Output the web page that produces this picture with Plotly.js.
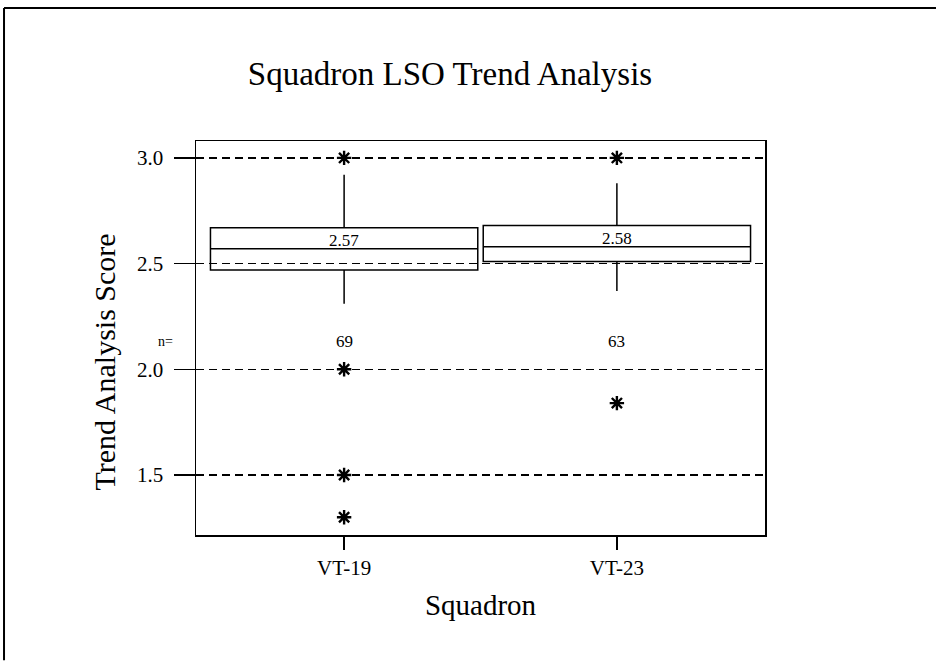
<!DOCTYPE html>
<html>
<head>
<meta charset="utf-8">
<script src="https://cdn.plot.ly/plotly-3.0.1.min.js"></script>
<style>html,body{margin:0;padding:0;background:#fff;overflow:hidden;}#chart{width:937px;height:662px;}</style>
</head>
<body>
<div id="chart"></div>
<script>
// ---- data ----
const categories = ['VT-19', 'VT-23'];
const q1Values = [2.47, 2.51];
const medianValues = [2.57, 2.58];
const q3Values = [2.67, 2.68];
const lowerWhisker = [2.31, 2.37];
const upperWhisker = [2.92, 2.88];
const nCounts = [69, 63];
const outlierCategories = ['VT-19', 'VT-19', 'VT-19', 'VT-19', 'VT-23', 'VT-23'];
const outlierValues = [3.0, 2.0, 1.5, 1.3, 3.0, 1.84];
const yTickValues = [1.5, 2.0, 2.5, 3.0];
const yTickLabels = ['1.5', '2.0', '2.5', '3.0'];

const FONT = 'Liberation Serif, Times New Roman, serif';

const boxTrace = {
  type: 'box',
  x: categories,
  q1: q1Values,
  median: medianValues,
  q3: q3Values,
  lowerfence: lowerWhisker,
  upperfence: upperWhisker,
  width: 0.98,
  whiskerwidth: 0,
  boxpoints: false,
  fillcolor: 'rgba(0,0,0,0)',
  line: {color: '#000', width: 1.5},
  showlegend: false,
  hoverinfo: 'y'
};

const outlierTrace = {
  type: 'scatter',
  mode: 'markers',
  x: outlierCategories,
  y: outlierValues,
  marker: {symbol: 'asterisk-open', size: 12, color: '#000', line: {color: '#000', width: 2.4}},
  showlegend: false,
  cliponaxis: false
};

const annotations = [];
categories.forEach((c, i) => {
  annotations.push({
    x: c, y: medianValues[i], xref: 'x', yref: 'y',
    text: medianValues[i].toFixed(2), showarrow: false,
    xanchor: 'center', yanchor: 'bottom', yshift: -3,
    font: {family: FONT, size: 17, color: '#000'}
  });
  annotations.push({
    x: c, y: 2.13, xref: 'x', yref: 'y',
    text: String(nCounts[i]), showarrow: false,
    xanchor: 'center', yanchor: 'middle',
    font: {family: FONT, size: 17, color: '#000'}
  });
});
annotations.push({
  x: -0.037, y: 2.13, xref: 'paper', yref: 'y',
  text: 'n=', showarrow: false, xanchor: 'right', yanchor: 'middle',
  font: {family: FONT, size: 14, color: '#000'}
});
annotations.push({
  x: -0.16, y: 0.44, xref: 'paper', yref: 'paper',
  text: 'Trend Analysis Score', showarrow: false, textangle: -90,
  xanchor: 'center', yanchor: 'middle',
  font: {family: FONT, size: 30, color: '#000'}
});

const layout = {
  width: 937, height: 662,
  margin: {l: 196, r: 172, t: 141, b: 127},
  paper_bgcolor: '#fff', plot_bgcolor: '#fff',
  font: {family: FONT, color: '#000'},
  title: {
    text: 'Squadron LSO Trend Analysis',
    font: {family: FONT, size: 33, color: '#000'},
    x: 450 / 937, xref: 'container', xanchor: 'center',
    y: 1 - 73 / 662, yref: 'container', yanchor: 'middle'
  },
  xaxis: {
    type: 'category',
    range: [-0.543, 1.543],
    showline: true, linecolor: '#000', linewidth: 1.5, mirror: true,
    ticks: 'outside', ticklen: 13, tickwidth: 1.5, tickcolor: '#000',
    showgrid: false, zeroline: false,
    tickfont: {family: FONT, size: 21, color: '#000'},
    title: {text: 'Squadron', font: {family: FONT, size: 29, color: '#000'}, standoff: 16}
  },
  yaxis: {
    range: [1.216, 3.08],
    tickvals: yTickValues, ticktext: yTickLabels,
    showline: true, linecolor: '#000', linewidth: 1.5, mirror: true,
    ticks: 'outside', ticklen: 21, tickwidth: 1.5, tickcolor: '#000',
    ticklabelstandoff: 6,
    showgrid: true, gridcolor: '#000', gridwidth: 1.5, griddash: '8px,5px',
    zeroline: false,
    tickfont: {family: FONT, size: 21, color: '#000'}
  },
  shapes: [
    {type: 'line', xref: 'paper', yref: 'paper', x0: -0.3374, x1: -0.3374, y0: 1.3376, y1: -0.318, line: {color: '#000', width: 2}},
    {type: 'line', xref: 'paper', yref: 'paper', x0: -0.3374, x1: 1.3005, y0: 1.3376, y1: 1.3376, line: {color: '#000', width: 2}}
  ],
  annotations: annotations,
  showlegend: false
};

Plotly.newPlot('chart', [boxTrace, outlierTrace], layout, {displayModeBar: false, staticPlot: true});
</script>
</body>
</html>
